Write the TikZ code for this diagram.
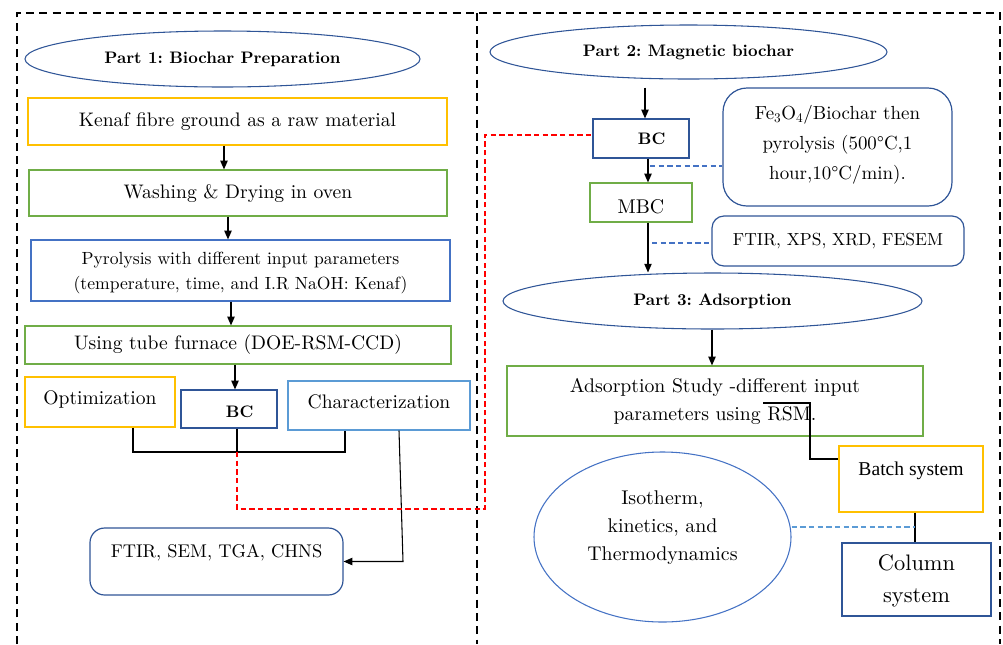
\documentclass[tikz,border=0pt]{standalone}
\usepackage{fontspec}
\setmainfont{lmroman10-regular.otf}[BoldFont=lmroman10-bold.otf]
\newfontfamily\timesf{Liberation Serif}
\usetikzlibrary{fit,shapes.geometric,arrows.meta}
\definecolor{cyel}{HTML}{FFC000}
\definecolor{cgrn}{HTML}{70AD47}
\definecolor{cblu}{HTML}{4472C4}
\definecolor{cdbl}{HTML}{2F5597}
\definecolor{clbl}{HTML}{5B9BD5}
\begin{document}
\frenchspacing
\begin{tikzpicture}[x=0.75pt,y=-0.75pt,
  bx/.style={draw, line width=0.9pt, inner sep=0pt},
  ell/.style={ellipse, draw, line width=0.8pt, inner sep=0pt},
  ttl/.style={font=\fontsize{12.5}{16}\selectfont\bfseries},
  txt/.style={font=\fontsize{14.7}{20}\selectfont, align=center, inner sep=0pt},
  bct/.style={font=\fontsize{12.5}{20}\selectfont\bfseries, inner sep=0pt},
  arr/.style={-{Triangle[length=6.5pt,width=5.5pt]}, line width=0.8pt},
  ln/.style={line width=0.8pt},
  frame/.style={line width=2.2pt, dash pattern=on 6pt off 4pt},
  rdash/.style={red, line width=0.8pt, dash pattern=on 4pt off 2.5pt},
  bdash/.style={cblu, line width=0.8pt, dash pattern=on 4pt off 2.5pt},
  lbdash/.style={clbl, line width=0.8pt, dash pattern=on 4pt off 2.5pt}]
\useasboundingbox (0,0) rectangle (1003,644);
% frames
\draw[frame] (17,644) -- (17,13) -- (1000,13) -- (1000,644);
\draw[frame] (477,13) -- (477,644);
% Part 1
\node[ell, draw=cdbl, minimum width=296.25pt, minimum height=42pt, ttl] (p1) at (222.5,59) {Part 1: Biochar Preparation};
\node[bx, draw=cyel, fit={(28,98) (447,145)}] (kenaf) {};
\node[txt] (tkenaf) at (kenaf.center) {Kenaf fibre ground as a raw material};
\node[bx, draw=cgrn, fit={(29,170) (447,216)}] (wash) {};
\node[txt] (twash) at (wash.center) {Washing \& Drying in oven};
\node[bx, draw=cblu, fit={(31,240) (450,301)}] (pyro) {};
\node[txt, font=\fontsize{13.2}{18.75}\selectfont] (tpyro) at ([yshift=-1.5pt]pyro.center) {Pyrolysis with different input parameters\\(temperature, time, and I.R NaOH: Kenaf)};
\node[bx, draw=cgrn, fit={(25,326) (451,364)}] (tube) {};
\node[txt] (ttube) at (tube.center) {Using tube furnace (DOE-RSM-CCD)};
\node[bx, draw=cyel, fit={(25,377) (175,427)}] (opt) {};
\node[txt] (topt) at ([yshift=2pt]opt.center) {Optimization};
\node[bx, draw=cdbl, fit={(181,390) (277,428)}] (bc1) {};
\node[bct] (tbc1) at ([xshift=8pt,yshift=-2pt]bc1.center) {BC};
\node[bx, draw=clbl, fit={(288,381) (470,430)}] (char) {};
\node[txt] (tchar) at ([yshift=2.5pt]char.center) {Characterization};
\node[bx, draw=cdbl, rounded corners=11pt, fit={(90,528) (343,595)}] (ftira) {};
\node[txt, font=\fontsize{13.8}{20}\selectfont] (tftira) at ([yshift=6.5pt]ftira.center) {FTIR, SEM, TGA, CHNS};
\coordinate (jl) at (133,452);
\coordinate (jm) at (237,452);
\coordinate (jr) at (345,452);
\coordinate (cb) at (403,561.5);
\coordinate (r1) at (237,509);
\coordinate (r2) at (485,509);
\coordinate (r3) at (485,135);
\draw[arr] (kenaf.south -| 224,0) -- (wash.north -| 224,0);
\draw[arr] (wash.south -| 228,0) -- (pyro.north -| 228,0);
\draw[arr] (pyro.south -| 231,0) -- (tube.north -| 231,0);
\draw[arr] (tube.south -| 235,0) -- (bc1.north -| 235,0);
\draw[ln] (opt.south -| jl) -- (jl) -- (jr) -- (char.south -| jr);
\draw[ln] (bc1.south -| jm) -- (jm);
\draw[arr] (char.south -| 399,0) -- (cb) -- (ftira.east);
% Part 2
\node[ell, draw=cdbl, minimum width=297.75pt, minimum height=40.5pt, ttl] (p2) at (688.5,52) {Part 2: Magnetic biochar};
\node[bx, draw=cdbl, fit={(593,119) (689,158)}] (bc2) {};
\node[bct] (tbc2) at ([xshift=8pt]bc2.center) {BC};
\node[bx, draw=cgrn, fit={(590,183) (692,222)}] (mbc) {};
\node[txt, font=\fontsize{14.9}{20}\selectfont] (tmbc) at ([yshift=-3.5pt]mbc.center) {MBC};
\node[bx, draw=cdbl, rounded corners=18pt, fit={(723,88) (952,206)}] (fe) {};
\node[txt, font=\fontsize{14.2}{22.5}\selectfont] (tfe) at ([yshift=1.5pt]fe.center) {Fe\textsubscript{3}O\textsubscript{4}/Biochar then\\pyrolysis (500°C,1\\hour,10°C/min).};
\node[bx, draw=cdbl, rounded corners=9pt, fit={(712,216) (964,266)}] (ftirb) {};
\node[txt, font=\fontsize{13.1}{20}\selectfont] (tftirb) at (ftirb.center) {FTIR, XPS, XRD, FESEM};
\draw[rdash] (jm) -- (r1) -- (r2) -- (r3) -- (bc2.west |- r3);
\draw[arr, shorten <=6pt] (p2.south -| 645,0) -- (bc2.north -| 645,0);
\draw[arr] (bc2.south -| 648,0) -- (mbc.north -| 648,0);
\draw[bdash] (650,166) -- (fe.west |- 650,166);
% Part 3
\node[ell, draw=cdbl, minimum width=314.25pt, minimum height=42pt, ttl] (p3) at (712.5,301) {Part 3: Adsorption};
\draw[arr] (mbc.south -| 648,0) -- (p3.north -| 648,0);
\draw[bdash] (652,243) -- (ftirb.west |- 652,243);
\node[bx, draw=cgrn, fit={(507,366) (923,436)}] (ads) {};
\node[txt, font=\fontsize{14.8}{21}\selectfont] (tads) at (ads.center) {Adsorption Study -different input\\parameters using RSM.};
\draw[arr] (p3.south -| 712,0) -- (ads.north -| 712,0);
\node[bx, draw=cyel, fit={(839,446) (983,512)}] (batch) {};
\node[txt, font=\fontsize{14.7}{20}\timesf] (tbatch) at ([yshift=6.5pt]batch.center) {Batch system};
\node[bx, draw=cdbl, fit={(842,543) (991,616)}] (col) {};
\node[txt, font=\fontsize{16.8}{24}\selectfont] (tcol) at ([yshift=-1pt]col.center) {Column\\system};
\node[ellipse, draw=cblu, line width=0.8pt, inner sep=0pt, minimum width=192.75pt, minimum height=127.5pt] (iso) at (662.5,537) {};
\node[txt, font=\fontsize{14.9}{21}\selectfont] (tiso) at ([yshift=6.75pt]iso.center) {Isotherm,\\kinetics, and\\Thermodynamics};
\coordinate (a1) at (763,403);
\coordinate (a2) at (810,403);
\coordinate (a3) at (810,459);
\coordinate (cj) at (915,527);
\draw[ln] (a1) -- (a2) -- (a3) -- (batch.west |- a3);
\draw[ln] (batch.south -| cj) -- (col.north -| cj);
\draw[lbdash] (iso.east |- cj) -- (cj);
\end{tikzpicture}
\end{document}
